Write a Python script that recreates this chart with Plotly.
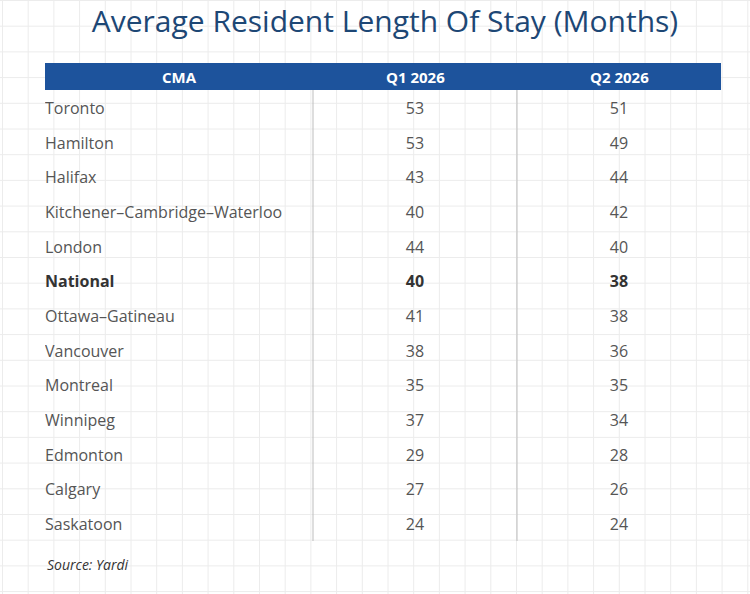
import plotly.graph_objects as go

cma = ["Toronto", "Hamilton", "Halifax", "Kitchener–Cambridge–Waterloo", "London",
       "National", "Ottawa–Gatineau", "Vancouver", "Montreal", "Winnipeg",
       "Edmonton", "Calgary", "Saskatoon"]
q1_2026 = [53, 53, 43, 40, 44, 40, 41, 38, 35, 37, 29, 27, 24]
q2_2026 = [51, 49, 44, 42, 40, 38, 38, 36, 35, 34, 28, 26, 24]
headers = ["CMA", "Q1 2026", "Q2 2026"]
highlight = "National"

W, H = 750, 594
BLUE = "#1d539c"
NAVY = "#1d4775"
GRID = "#ececec"
FONT = "Open Sans"


def px(x):
    return x / W


def py(y):
    return 1 - y / H


# table geometry in pixels
left, right = 45, 721
top, head_h, body_bottom = 63, 27, 541
text_drop = 2.5  # middle-anchored text reads a bit high
col_w = [268, 204, 204]
edges = [sum(col_w[:i]) for i in range(len(col_w) + 1)]
centers = [(a + b) / 2 for a, b in zip(edges[:-1], edges[1:])]

bold_row = [c == highlight for c in cma]
colors = ["#333333" if b else "#555555" for b in bold_row]
weights = ["bold" if b else "normal" for b in bold_row]

fig = go.Figure()
columns = [cma, q1_2026, q2_2026]
for i, col in enumerate(columns):
    first = i == 0
    fig.add_trace(go.Scatter(
        x=[edges[0] if first else centers[i]] * len(cma),
        y=cma,
        text=[str(v) for v in col],
        mode="text",
        textposition="middle right" if first else "middle center",
        textfont=dict(family=FONT, size=16, color=colors, weight=weights),
        hoverinfo="skip",
        showlegend=False,
    ))

shapes = []
# graph-paper background
x = 2.5
while x < W:
    shapes.append(dict(type="line", xref="paper", yref="paper", x0=px(x), x1=px(x),
                       y0=0, y1=1, line=dict(color=GRID, width=1), layer="below"))
    x += 25.7
y = 0.5
while y < H:
    shapes.append(dict(type="line", xref="paper", yref="paper", x0=0, x1=1,
                       y0=py(y), y1=py(y), line=dict(color=GRID, width=1), layer="below"))
    y += 25.7

# header bar
shapes.append(dict(type="rect", xref="x", yref="paper", x0=edges[0], x1=edges[-1],
                   y0=py(top + head_h), y1=py(top), fillcolor=BLUE, line_width=0, layer="below"))

# column dividers in the body
for e in edges[1:-1]:
    shapes.append(dict(type="line", xref="x", yref="paper", x0=e, x1=e,
                       y0=py(body_bottom), y1=py(top + head_h),
                       line=dict(color="#bdbdbd", width=1), layer="below"))

annotations = [dict(text=f"<b>{h}</b>", xref="x", yref="paper", x=c, y=py(top + head_h / 2),
                    xanchor="center", yanchor="middle", showarrow=False,
                    font=dict(family=FONT, size=15, color="white"))
               for h, c in zip(headers, centers)]
annotations.append(dict(text="<i>Source: Yardi</i>", xref="paper", yref="paper",
                        x=px(45), y=py(564), xanchor="left", yanchor="middle",
                        showarrow=False, font=dict(family=FONT, size=14, color="#333333")))

fig.update_layout(
    width=W, height=H,
    margin=dict(l=0, r=0, t=0, b=0),
    paper_bgcolor="white",
    plot_bgcolor="rgba(0,0,0,0)",
    shapes=shapes,
    annotations=annotations,
    xaxis=dict(domain=[px(left), px(right)], range=[edges[0], edges[-1]],
               visible=False, fixedrange=True),
    yaxis=dict(domain=[py(body_bottom + text_drop), py(top + head_h + text_drop)],
               type="category", categoryorder="array", categoryarray=cma,
               range=[len(cma) - 0.5, -0.5], visible=False, fixedrange=True),
    title=dict(text="Average Resident Length Of Stay (Months)",
               x=px(385), y=py(21), xanchor="center", yanchor="middle",
               font=dict(family=FONT, size=30, color=NAVY)),
)

# drop the page's default body margin so the figure sits at the window's corner
fig.write_html("out.html", config={"displayModeBar": False},
               post_script="document.body.style.margin = '0';")
